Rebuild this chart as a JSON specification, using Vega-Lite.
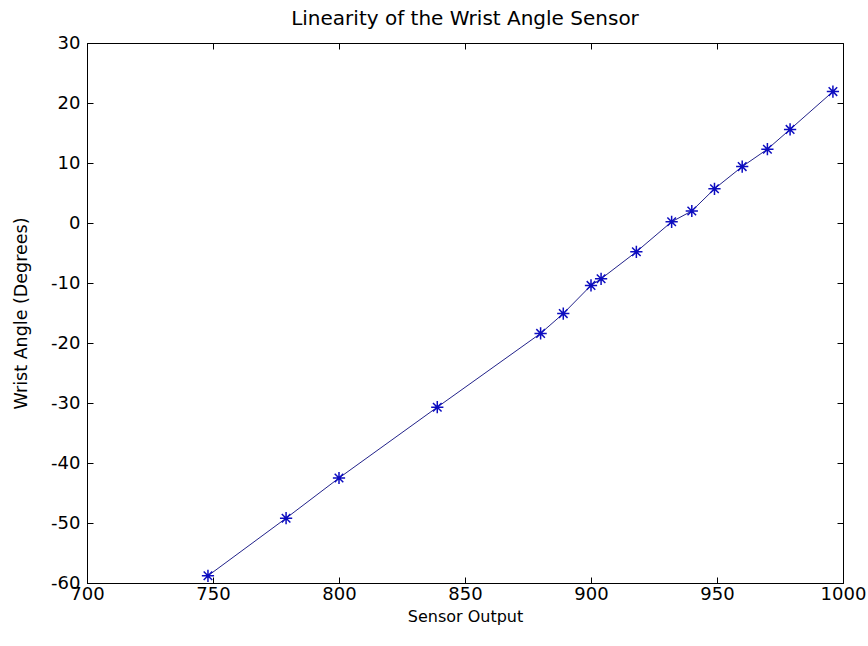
{
  "$schema": "https://vega.github.io/schema/vega-lite/v6.json",
  "width": 756,
  "height": 540,
  "autosize": {"type": "none"},
  "padding": {"left": 87, "top": 43, "right": 25, "bottom": 63},
  "background": "white",
  "title": {
    "text": "Linearity of the Wrist Angle Sensor",
    "font": "DejaVu Sans",
    "fontSize": 20,
    "fontWeight": "normal",
    "color": "#000000",
    "frame": "group",
    "baseline": "alphabetic",
    "offset": -11
  },
  "config": {
    "view": {"stroke": "#000000", "strokeWidth": 1},
    "axis": {
      "labelFont": "DejaVu Sans",
      "titleFont": "DejaVu Sans",
      "labelFontSize": 18,
      "titleFontSize": 16,
      "titleFontWeight": "normal",
      "labelColor": "#000000",
      "titleColor": "#000000",
      "domainColor": "#000000",
      "tickColor": "#000000",
      "grid": false
    }
  },
  "data": {
    "values": [
      {"output": 748, "angle": -58.8},
      {"output": 779, "angle": -49.2},
      {"output": 800, "angle": -42.5},
      {"output": 839, "angle": -30.7},
      {"output": 880, "angle": -18.4},
      {"output": 889, "angle": -15.1},
      {"output": 900, "angle": -10.4},
      {"output": 904, "angle": -9.3},
      {"output": 918, "angle": -4.8},
      {"output": 932, "angle": 0.2},
      {"output": 940, "angle": 2.0},
      {"output": 949, "angle": 5.7},
      {"output": 960, "angle": 9.4},
      {"output": 970, "angle": 12.3},
      {"output": 979, "angle": 15.6},
      {"output": 996, "angle": 21.9}
    ]
  },
  "layer": [
    {
      "mark": {"type": "line", "color": "#22228a", "strokeWidth": 1},
      "encoding": {
        "x": {
          "field": "output",
          "type": "quantitative",
          "scale": {"domain": [700, 1000], "nice": false, "zero": false},
          "axis": {
            "title": "Sensor Output",
            "values": [700, 750, 800, 850, 900, 950, 1000],
            "labelExpr": "'' + datum.value",
            "tickSize": -6,
            "labelPadding": 8,
            "titlePadding": 5,
            "labelFlush": false,
            "labelOverlap": false
          }
        },
        "y": {
          "field": "angle",
          "type": "quantitative",
          "scale": {"domain": [-60, 30], "nice": false, "zero": false},
          "axis": {
            "title": "Wrist Angle (Degrees)",
            "titleFontSize": 17.5,
            "values": [-60, -50, -40, -30, -20, -10, 0, 10, 20, 30],
            "labelExpr": "'' + datum.value",
            "tickSize": -6,
            "labelPadding": 13,
            "titlePadding": 20,
            "labelFlush": false,
            "labelOverlap": false
          }
        }
      }
    },
    {
      "mark": {
        "type": "point",
        "shape": "M-1,0L1,0M0,-1L0,1M-0.7,-0.7L0.7,0.7M-0.7,0.7L0.7,-0.7",
        "filled": false,
        "color": "#0d0dc0",
        "strokeWidth": 1.5,
        "size": 150,
        "opacity": 1
      },
      "encoding": {
        "x": {"field": "output", "type": "quantitative", "axis": null},
        "y": {"field": "angle", "type": "quantitative", "axis": null}
      }
    },
    {
      "mark": {"type": "point", "opacity": 0},
      "encoding": {
        "x": {
          "field": "output",
          "type": "quantitative",
          "axis": {
            "orient": "top",
            "title": null,
            "labels": false,
            "domain": false,
            "values": [700, 750, 800, 850, 900, 950, 1000],
            "tickSize": -6
          }
        },
        "y": {
          "field": "angle",
          "type": "quantitative",
          "axis": {
            "orient": "right",
            "title": null,
            "labels": false,
            "domain": false,
            "values": [-60, -50, -40, -30, -20, -10, 0, 10, 20, 30],
            "tickSize": -6
          }
        }
      }
    }
  ],
  "resolve": {"axis": {"x": "independent", "y": "independent"}}
}
